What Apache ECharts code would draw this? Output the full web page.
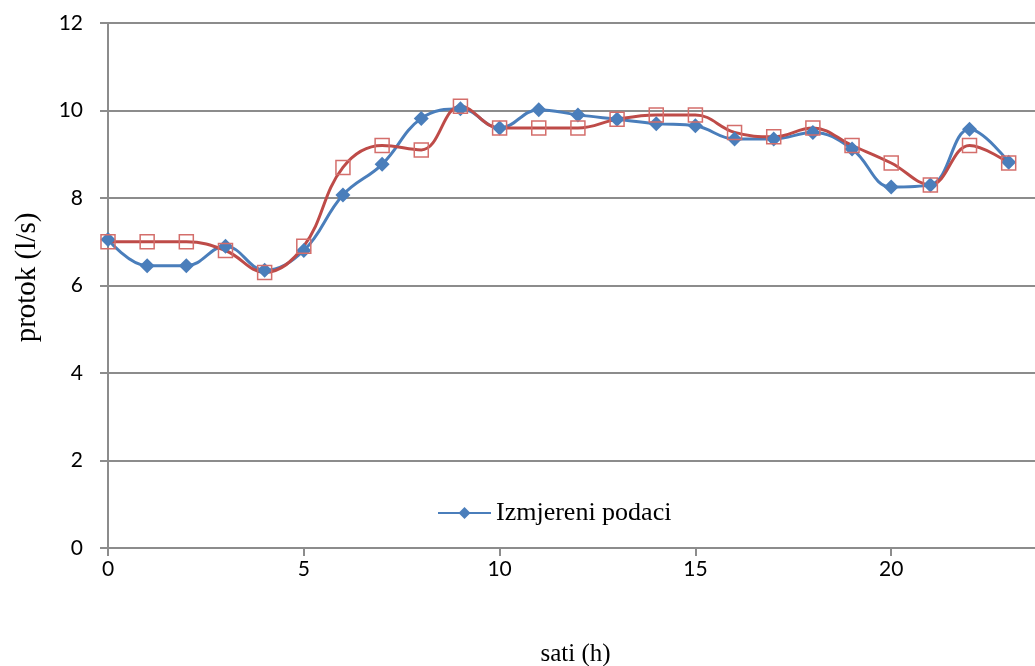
<!DOCTYPE html>
<html>
<head>
<meta charset="utf-8">
<script src="https://cdn.jsdelivr.net/npm/echarts@6/dist/echarts.min.js"></script>
<style>
  html, body { margin: 0; padding: 0; background: #fff; }
  #chart { width: 1035px; height: 666px; }
</style>
</head>
<body>
<div id="chart"></div>
<script>
// sati (h)
const hours = [0, 1, 2, 3, 4, 5, 6, 7, 8, 9, 10, 11, 12, 13, 14, 15, 16, 17, 18, 19, 20, 21, 22, 23];
// Izmjereni podaci (plava linija)
const measured = [7.05, 6.45, 6.45, 6.9, 6.35, 6.8, 8.07, 8.77, 9.82, 10.04, 9.6, 10.02,
                  9.9, 9.8, 9.7, 9.65, 9.35, 9.35, 9.5, 9.12, 8.25, 8.3, 9.57, 8.82];
// druga serija (crvena, bez legende)
const modeled = [7.0, 7.0, 7.0, 6.8, 6.3, 6.9, 8.7, 9.2, 9.1, 10.1, 9.6, 9.6,
                 9.6, 9.8, 9.9, 9.9, 9.5, 9.4, 9.6, 9.2, 8.8, 8.3, 9.2, 8.8];

const gridColor = '#8c8c8c';
const labelFont = 'Lato, "Open Sans", sans-serif';
const serifFont = '"Liberation Serif", "DejaVu Serif", serif';

const pairs = (ys) => hours.map((h, i) => [h, ys[i]]);

const myChart = echarts.init(document.getElementById('chart'));
const option = {
  animation: false,
  grid: {
    left: 108,
    top: 23,
    width: 979,   // os ide do 25, desni dio je odrezan kao na slici
    height: 525,
    outerBoundsMode: 'none'
  },
  legend: {
    data: ['Izmjereni podaci'],
    left: 437,
    top: 500,
    padding: 0,
    itemWidth: 53,
    itemHeight: 15,
    itemGap: 3,
    textStyle: { fontFamily: serifFont, fontSize: 26, color: '#000' }
  },
  xAxis: {
    type: 'value',
    min: 0,
    max: 25,
    interval: 5,
    name: 'sati (h)',
    nameLocation: 'middle',
    nameGap: 94,
    nameTextStyle: {
      fontFamily: serifFont, fontSize: 25, color: '#000',
      padding: [0, 44, 0, 0]
    },
    axisLine: { lineStyle: { color: gridColor, width: 2 } },
    axisTick: { show: true, length: 8, lineStyle: { color: gridColor, width: 2 } },
    axisLabel: { fontFamily: labelFont, fontSize: 21, color: '#000', margin: 11 },
    splitLine: { show: false }
  },
  yAxis: {
    type: 'value',
    min: 0,
    max: 12,
    interval: 2,
    name: 'protok (l/s)',
    nameLocation: 'middle',
    nameGap: 66,
    nameTextStyle: {
      fontFamily: serifFont, fontSize: 29, color: '#000',
      padding: [0, 0, 0, 16]
    },
    axisLine: { show: true, lineStyle: { color: gridColor, width: 2 } },
    axisTick: { show: true, length: 8, lineStyle: { color: gridColor, width: 2 } },
    axisLabel: { fontFamily: labelFont, fontSize: 21, color: '#000', margin: 25 },
    splitLine: { lineStyle: { color: gridColor, width: 2 } }
  },
  series: [
    {
      name: 'Izmjereni podaci',
      type: 'line',
      data: pairs(measured),
      smooth: 0.4,
      symbol: 'diamond',
      symbolSize: 15,
      lineStyle: { color: '#4a7ebb', width: 3 },
      itemStyle: { color: '#4a7ebb', borderWidth: 0 }
    },
    {
      name: 'model',
      type: 'line',
      data: pairs(modeled),
      smooth: 0.4,
      symbol: 'rect',
      symbolSize: 14,
      lineStyle: { color: '#be4b48', width: 3 },
      itemStyle: { color: 'rgba(255,255,255,0)', borderColor: '#d46e6b', borderWidth: 1.5 }
    }
  ]
};
myChart.setOption(option);
</script>
</body>
</html>
